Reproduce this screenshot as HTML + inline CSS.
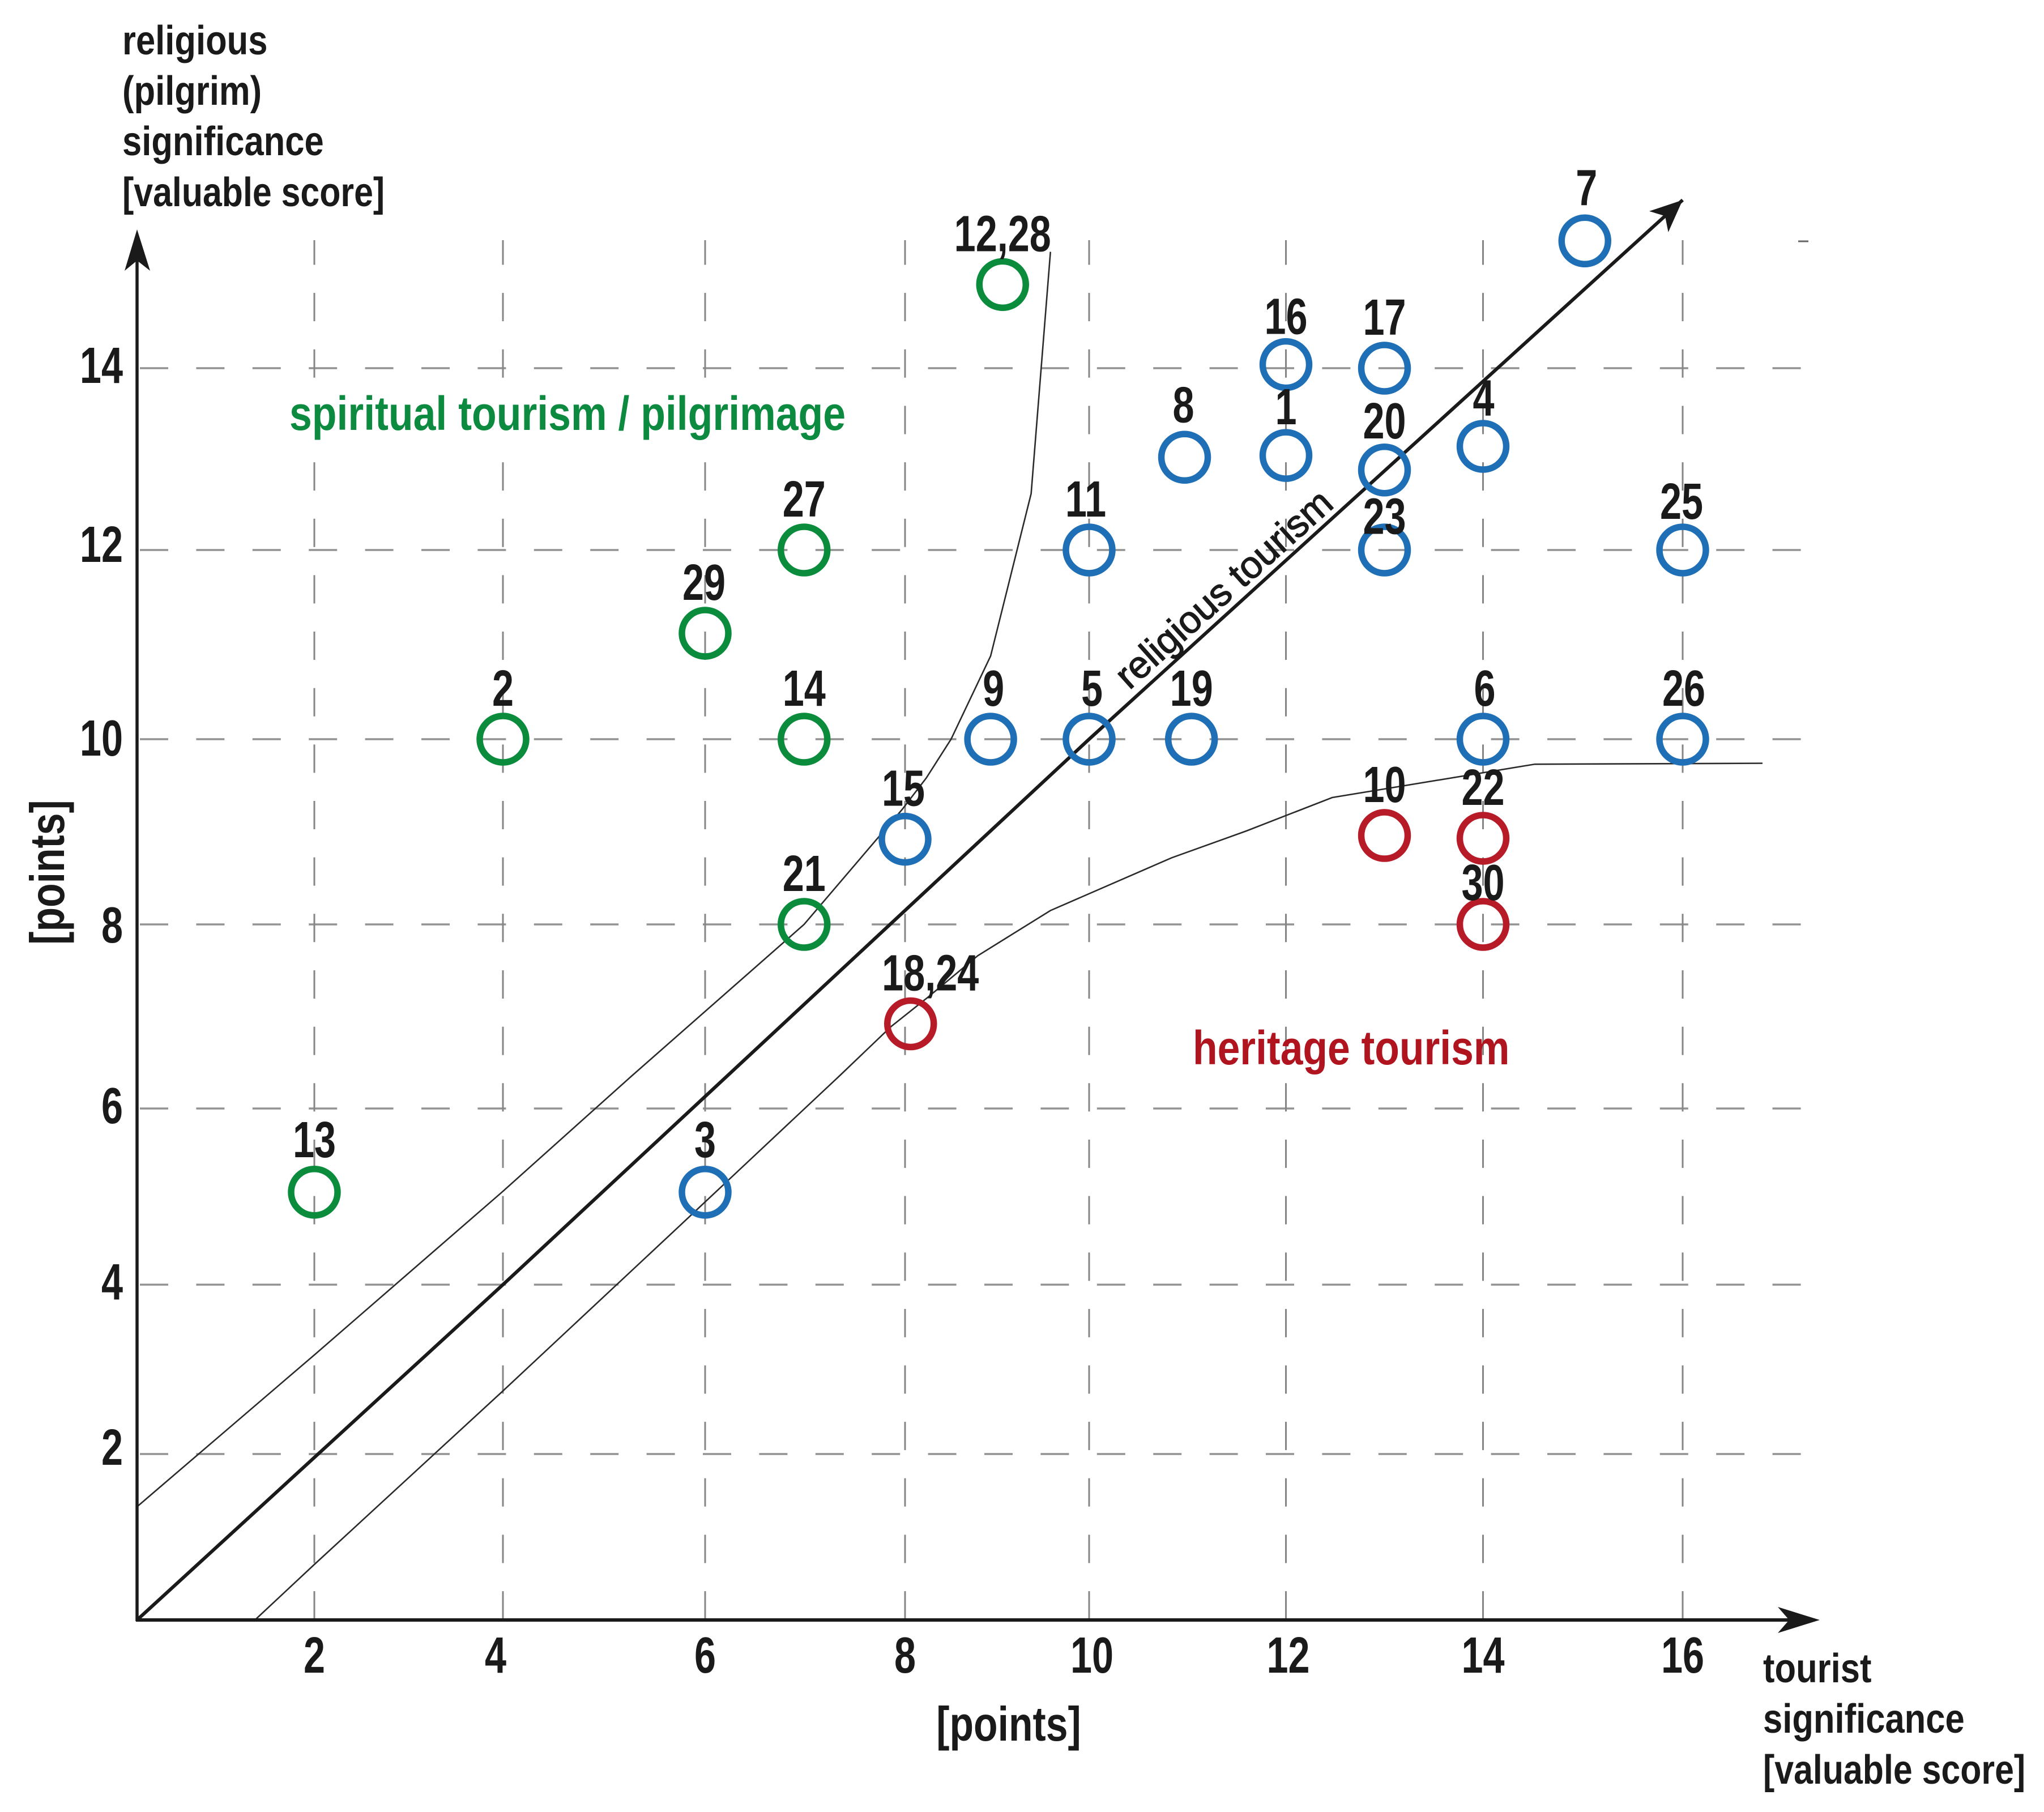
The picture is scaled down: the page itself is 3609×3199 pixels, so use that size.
<!DOCTYPE html>
<html lang="en">
<head>
<meta charset="utf-8">
<title>Religious and tourist significance scatter chart</title>
<style>
  html, body { margin: 0; padding: 0; background: #fff; }
  svg { display: block; }
  text { font-family: "Liberation Sans", Arial, sans-serif; font-weight: 700; fill: #1a1a1a; }
</style>
</head>
<body>
<svg id="chart" xmlns="http://www.w3.org/2000/svg" width="3609" height="3199" viewBox="0 0 3609 3199">
  <rect x="0" y="0" width="3609" height="3199" fill="#ffffff"/>
  <g id="grid"></g>
  <rect x="505" y="695" width="995" height="90" fill="#ffffff"/>
  <g id="boundaries"></g>
  <g id="axes">
    <line x1="242" y1="2862" x2="242" y2="440" stroke="#1a1a1a" stroke-width="5.5"/>
    <line x1="240" y1="2860" x2="3170" y2="2860" stroke="#1a1a1a" stroke-width="6"/>
    <polygon points="242,405 265,478 242,460 220,478" fill="#1a1a1a"/>
    <polygon points="3213,2860 3139,2883 3159,2860 3139,2837" fill="#1a1a1a"/>
  </g>
  <g id="ticks"></g>
  <g id="points"></g>
  <g id="point-labels"></g>

  <g>
    <text transform="translate(216,96) scale(.855,1)" font-size="72">religious</text>
    <text transform="translate(216,185) scale(.855,1)" font-size="72">(pilgrim)</text>
    <text transform="translate(216,274) scale(.855,1)" font-size="72">significance</text>
    <text transform="translate(216,364) scale(.845,1)" font-size="72">[valuable score]</text>
  </g>
  <g>
    <text transform="translate(3113,2970) scale(.855,1)" font-size="72">tourist</text>
    <text transform="translate(3113,3059) scale(.855,1)" font-size="72">significance</text>
    <text transform="translate(3113,3149) scale(.845,1)" font-size="72">[valuable score]</text>
  </g>
  <text transform="translate(1781,3073) scale(.82,1)" font-size="85" text-anchor="middle">[points]</text>
  <text transform="translate(113,1540) rotate(-90) scale(.82,1)" font-size="85" text-anchor="middle">[points]</text>

  <text transform="translate(511,759) scale(.852,1)" font-size="84" style="fill:#0c8a3f">spiritual tourism / pilgrimage</text>
  <text transform="translate(2106,1879) scale(.85,1)" font-size="84" style="fill:#b0141f">heritage tourism</text>
  <text transform="translate(1994,1219) rotate(-41.8)" font-size="67" style="font-weight:400;stroke:#1a1a1a;stroke-width:1.4px">religious tourism</text>
  <line x1="3175" y1="426" x2="3193" y2="426" stroke="#666666" stroke-width="3"/>
</svg>

<script>
// ---- chart data ----
const xTicks = [2, 4, 6, 8, 10, 12, 14, 16];
const yTicks = [2, 4, 6, 8, 10, 12, 14];

const pointLabels = ['1','2','3','4','5','6','7','8','9','10','11','12,28','13','14','15','16','17','18,24','19','20','21','22','23','25','26','27','29','30'];
const pointTourist = [12,4,6,14,10,14,15.02,10.97,8.93,13,10,9.06,2,6.99,8,12,13,8.06,11.04,13,6.99,14,13,16,16,6.99,6,14];
const pointReligious = [13.04,10,5.05,13.14,10,10,15.4,13.02,10,8.96,12,14.92,5.05,10,8.92,14.04,14,6.92,10,12.88,8,8.93,12,12,10,12,11.12,8];
const pointCategories = ['religious','spiritual','religious','religious','religious','religious','religious','religious','religious','heritage','religious','spiritual','spiritual','spiritual','religious','religious','religious','heritage','religious','religious','spiritual','heritage','religious','religious','religious','spiritual','spiritual','heritage'];

const upperBoundaryX = [0,2,4,5.27,6.99,7.97,8.23,8.5,8.93,9.37,9.58];
const upperBoundaryY = [1.365,3.17,5.06,6.35,8,9.24,9.58,10,10.88,12.62,15.28];
const lowerBoundaryX = [1.33,2,4,5.75,7.34,7.86,8.25,8.79,9.58,10.84,11.6,12.47,14.52,16.8];
const lowerBoundaryY = [0,0.669,2.745,4.67,6.35,6.89,7.21,7.66,8.15,8.72,9.01,9.37,9.73,9.74];
const mainLineX = [0,4,10,16];
const mainLineY = [0,4,10,15.85];

// ---- axis functions (the hand-drawn axes are slightly non-uniform) ----
function makeAxis(stepPixels) {
  return function (v) {
    const i = Math.max(0, Math.min(stepPixels.length - 2, Math.floor(v / 2)));
    return stepPixels[i] + (v / 2 - i) * (stepPixels[i + 1] - stepPixels[i]);
  };
}
const x = makeAxis([242, 555, 888, 1245, 1598, 1923, 2270.5, 2618.5, 2971]);
const y = makeAxis([2860, 2567, 2268, 1957, 1632, 1305, 971, 650]);

const SVG_NS = 'http://www.w3.org/2000/svg';
function make(tag, parent, attrs) {
  const el = document.createElementNS(SVG_NS, tag);
  for (const k in attrs) el.setAttribute(k, attrs[k]);
  parent.appendChild(el);
  return el;
}
function pathOf(xs, ys) {
  return xs.map(function (v, i) { return x(v) + ',' + y(ys[i]); }).join(' ');
}

// ---- grid ----
const grid = document.getElementById('grid');
yTicks.forEach(function (t) {
  const el = make('line', grid, { x1: 247, x2: 3183, y1: y(t), y2: y(t), stroke: '#929292', 'stroke-width': 3.5, 'stroke-dasharray': '50 49.4' });
  
  
});
xTicks.forEach(function (t) {
  const el = make('line', grid, { x1: x(t), x2: x(t), y1: 424, y2: 2860, stroke: '#858585', 'stroke-width': 3, 'stroke-dasharray': '50 49.65', 'stroke-dashoffset': 6.5 });
  
  
});

// ---- boundary curves and main diagonal ----
const boundaries = document.getElementById('boundaries');
const upperLine = make('polyline', boundaries, { points: pathOf(upperBoundaryX, upperBoundaryY), fill: 'none', stroke: '#2a2a2a', 'stroke-width': 2.6 });


const lowerLine = make('polyline', boundaries, { points: pathOf(lowerBoundaryX, lowerBoundaryY), fill: 'none', stroke: '#2a2a2a', 'stroke-width': 2.6 });


const mainLine = make('polyline', boundaries, { points: pathOf(mainLineX, mainLineY), fill: 'none', stroke: '#1a1a1a', 'stroke-width': 6 });



const last = mainLineX.length - 1;
const tipX = x(mainLineX[last]), tipY = y(mainLineY[last]);
const dirX = tipX - x(mainLineX[last - 1]), dirY = tipY - y(mainLineY[last - 1]);
const dirLen = Math.hypot(dirX, dirY);
const ux = dirX / dirLen, uy = dirY / dirLen;
function headPoint(back, side) {
  return (tipX - ux * back - uy * side) + ',' + (tipY - uy * back + ux * side);
}
const mainHead = make('polygon', boundaries, { points: [headPoint(0, 0), headPoint(57, 25), headPoint(42, 0), headPoint(57, -25)].join(' '), fill: '#1a1a1a' });



// ---- tick labels ----
const ticks = document.getElementById('ticks');
const TICK_FONT = 90, TICK_SX = 0.76;
function tickX(t) { return t === 4 ? -13 : (t === 10 ? 5 : (t === 12 ? 4 : 0)); }
function tickY(t) {
  if (t === 14) return 26;
  if (t === 12) return 21;
  if (t === 10) return 29;
  if (t === 8) return 32;
  if (t === 2) return 19;
  return 26;
}
xTicks.forEach(function (t) {
  const el = make('text', ticks, { transform: 'translate(' + (x(t) + tickX(t)) + ',2953) scale(' + TICK_SX + ',1)', 'font-size': TICK_FONT, 'text-anchor': 'middle' });
  el.textContent = String(t);
  
  
});
yTicks.forEach(function (t) {
  const el = make('text', ticks, { transform: 'translate(217,' + (y(t) + tickY(t)) + ') scale(' + TICK_SX + ',1)', 'font-size': TICK_FONT, 'text-anchor': 'end' });
  el.textContent = String(t);
  
  
});

// ---- points ----
const categoryColour = { religious: '#1f6fb6', spiritual: '#0b8c3d', heritage: '#b71b28' };
const pointsLayer = document.getElementById('points');
const labelsLayer = document.getElementById('point-labels');
function labelDx(name) {
  const n = { '7': 3, '8': -2, '11': -6, '25': -2, '5': 5, '6': 3, '9': 5, '18,24': 35, '15': -3, '26': 2, '4': 1, '29': -2 };
  return n[name] || 0;
}
function labelDy(name) {
  const n = { '23': -28.6, '30': -43, '16': -54, '1': -55, '4': -54.5, '25': -55, '20': -56, '7': -62.6, '8': -62, '13': -61.5, '3': -61.5 };
  return n[name] || -59;
}
pointLabels.forEach(function (name, i) {
  const cx = x(pointTourist[i]), cy = y(pointReligious[i]);
  const c = make('circle', pointsLayer, { cx: cx, cy: cy, r: 41, fill: 'none', stroke: categoryColour[pointCategories[i]], 'stroke-width': 11.5 });
  
  
  const t = make('text', labelsLayer, { transform: 'translate(' + (cx + labelDx(name)) + ',' + (cy + labelDy(name)) + ') scale(.76,1)', 'font-size': 90, 'text-anchor': 'middle' });
  t.textContent = name;
  
  
});
</script>
</body>
</html>
